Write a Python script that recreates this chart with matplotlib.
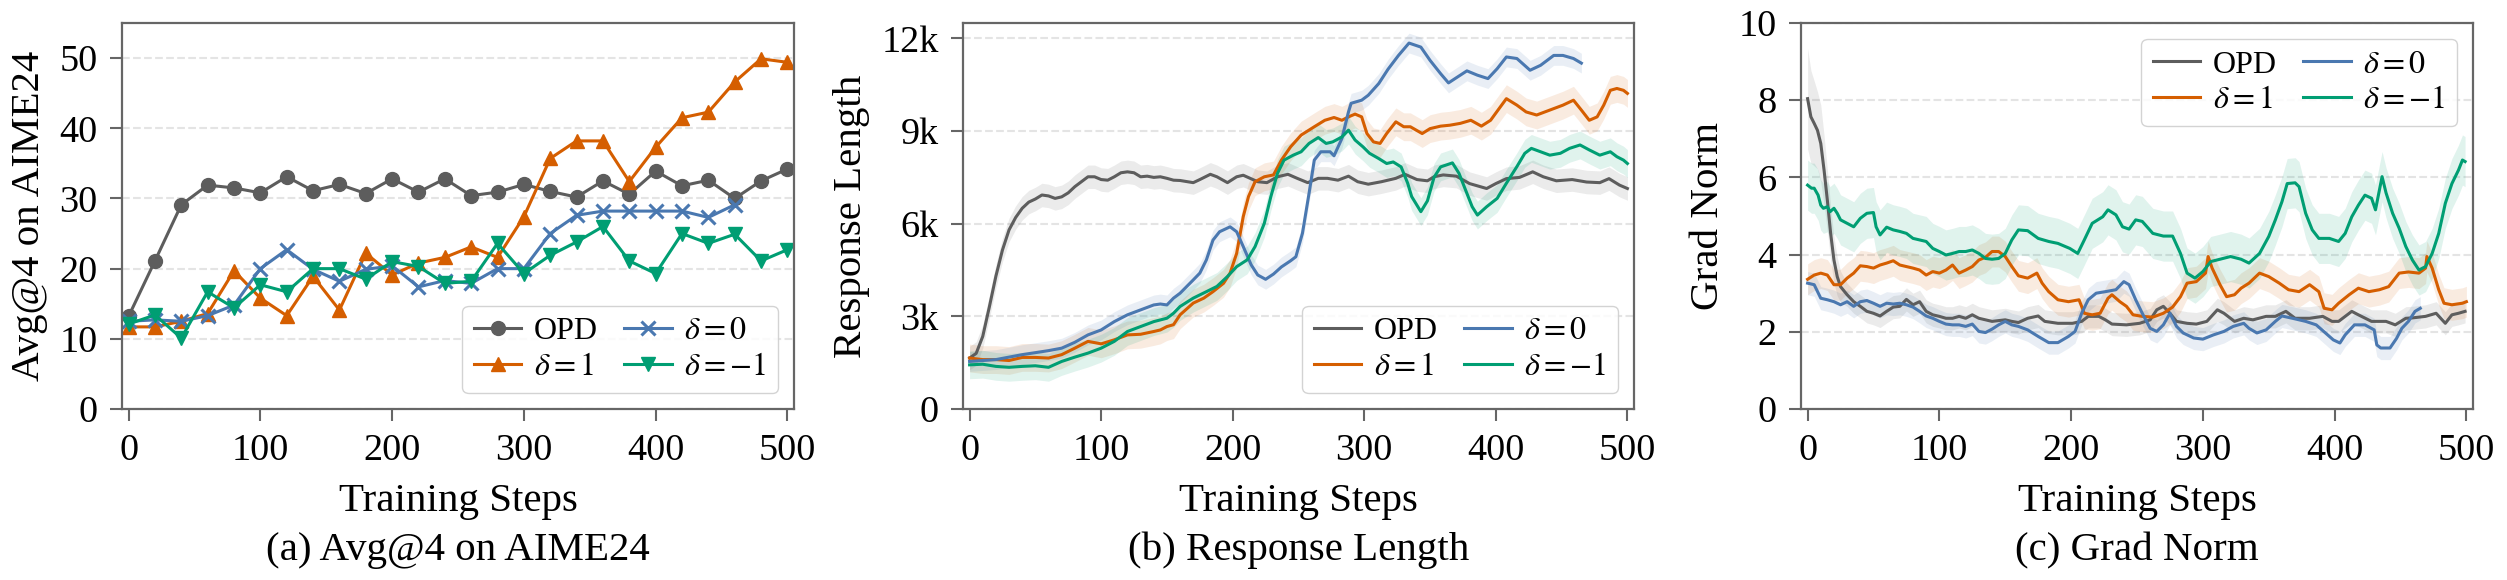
import numpy as np
import matplotlib
matplotlib.use('Agg')
import matplotlib.pyplot as plt

plt.rcParams['font.family'] = ['Liberation Serif', 'DejaVu Serif']
plt.rcParams['mathtext.fontset'] = 'stix'

#----------------------
# (a) Avg@4 on AIME24, evaluated every 20 steps
steps_a = [0, 20, 40, 60, 80, 100, 120, 140, 160, 180, 200, 220, 240,
           260, 280, 300, 320, 340, 360, 380, 400, 420, 440, 460, 480, 500]
opd_a = [13.2, 21.1, 29.1, 31.9, 31.5, 30.8, 33.1, 31.1, 32.0, 30.7, 32.8, 30.9, 32.8,
         30.4, 30.9, 32.0, 31.0, 30.2, 32.5, 30.6, 33.9, 31.8, 32.6, 30.0, 32.5, 34.2]
d1_a = [11.7, 11.7, 12.5, 13.6, 19.7, 15.8, 13.3, 18.9, 14.1, 22.2, 19.1, 20.8, 21.6,
        23.1, 21.6, 27.4, 35.7, 38.2, 38.2, 32.4, 37.3, 41.5, 42.3, 46.6, 49.9, 49.4]
d0_a = [12.5, 12.7, 12.5, 13.3, 14.8, 20.0, 22.7, 19.9, 18.2, 19.9, 20.4, 17.4, 18.3,
        17.9, 20.0, 20.0, 25.0, 27.6, 28.2, 28.2, 28.2, 28.2, 27.3, 29.1]
dm1_a = [12.1, 13.4, 10.1, 16.7, 14.4, 17.7, 16.7, 20.0, 20.0, 18.5, 21.0, 20.3, 17.9,
         18.2, 23.6, 19.3, 21.9, 23.8, 26.0, 21.1, 19.3, 25.0, 23.6, 24.9, 21.1, 22.7]

#----------------------
# (b) Response length (smoothed)
opd_b_x = [0, 5, 10, 15, 20, 25, 30, 35, 40, 45, 50, 55, 60, 65, 70, 75, 80, 85, 90, 95,
           100, 105, 110, 115, 120, 125, 130, 135, 140, 145, 150, 155, 160,
           170, 175, 183, 188, 196, 203, 208, 219, 226, 234, 242, 249, 257, 265, 272,
           280, 288, 295, 303, 313, 324, 331,
           340, 348, 353, 360, 370, 380, 393, 400, 408, 418, 428, 436, 446, 458, 469,
           479, 486, 494, 500]
opd_b = [1650, 1800, 2350, 3300, 4300, 5150, 5800, 6200, 6500, 6700, 6800, 6930, 6900,
         6820, 6870, 7000, 7200, 7360, 7520, 7520, 7430, 7410, 7520, 7650, 7680, 7650,
         7520, 7540, 7500, 7520, 7470, 7410, 7400,
         7330, 7430, 7600, 7520, 7330, 7520, 7570, 7360, 7330, 7520, 7600, 7470, 7330,
         7470, 7470, 7410, 7540, 7360, 7280, 7360, 7470, 7600,
         7430, 7390, 7520, 7580, 7540, 7300, 7140, 7300, 7460, 7500, 7680, 7520, 7390,
         7430, 7350, 7330, 7460, 7250, 7140]
d1_b_x = [0, 10, 20, 30, 40, 50, 60, 70, 80, 90, 100, 110, 120, 130, 140, 145, 150, 155,
          160, 170, 178, 185, 193, 198, 203, 208, 212, 217, 224, 231, 237, 244, 252, 262,
          270, 277, 283, 288, 293, 298, 302, 307, 312, 317, 324, 330, 335, 344, 350, 358,
          365, 373, 381, 389, 396, 403, 408, 416, 423, 431, 441, 451, 459, 465, 471, 477,
          482, 487, 492, 497, 500]
d1_b = [1650, 1600, 1600, 1570, 1670, 1670, 1650, 1760, 1970, 2190, 2110, 2240, 2400,
        2420, 2510, 2560, 2670, 2730, 3050, 3430, 3590, 3800, 4070, 4400, 5040, 6230,
        6880, 7360, 7520, 7580, 8060, 8490, 8870, 9140, 9350, 9440, 9350, 9460, 9550,
        9460, 8920, 8650, 8600, 8920, 9300, 9140, 9140, 8920, 9080, 9160, 9190, 9250,
        9350, 9160, 9350, 9760, 10050, 9840, 9620, 9520, 9680, 9840, 10000, 9680, 9350,
        9460, 9840, 10320, 10380, 10320, 10220]
d0_b_x = [0, 20, 40, 60, 70, 80, 90, 100, 110, 120, 130, 140, 145, 150, 155, 160, 170,
          175, 180, 185, 190, 198, 203, 208, 214, 219, 225, 231, 237, 244, 248, 253, 258,
          262, 267, 274, 277, 283, 288, 290, 298, 303, 311, 318, 326, 334, 343, 350, 358,
          364, 369, 378, 386, 394, 401, 408, 416, 426, 434, 444, 451, 459, 465]
d0_b = [1540, 1600, 1760, 1890, 1970, 2160, 2400, 2560, 2830, 3050, 3210, 3370, 3400,
        3370, 3590, 3750, 4180, 4400, 4830, 5470, 5740, 5900, 5740, 5260, 4670, 4340,
        4200, 4370, 4600, 4800, 4930, 5690, 6980, 8060, 8330, 8330, 8200, 8760, 9620,
        9900, 10000, 10160, 10540, 11000, 11450, 11850, 11720, 11290, 10860, 10560,
        10700, 10950, 10810, 10700, 11020, 11400, 11350, 10970, 11130, 11450, 11450,
        11350, 11200]
dm1_b_x = [0, 10, 20, 30, 40, 50, 60, 70, 80, 90, 100, 110, 120, 130, 140, 150, 155, 160,
           170, 180, 188, 196, 203, 211, 217, 224, 229, 234, 239, 246, 252, 258, 265, 271,
           276, 283, 288, 293, 299, 304, 311, 317, 322, 328, 333, 336, 340, 343, 348, 353,
           358, 367, 372, 377, 382, 386, 393, 401, 408, 416, 422, 427, 434, 441, 449, 456,
           464, 471, 479, 487, 492, 497, 500]
dm1_b = [1430, 1450, 1380, 1350, 1380, 1400, 1350, 1540, 1680, 1810, 1970, 2190, 2510,
         2670, 2830, 2940, 3100, 3320, 3590, 3800, 3970, 4290, 4610, 4830, 5260, 6010,
         6880, 7630, 8060, 8220, 8330, 8600, 8790, 8600, 8650, 8810, 9030, 8710, 8490,
         8280, 8110, 7950, 8000, 7840, 7310, 6880, 6600, 6390, 6740, 7500, 7840, 7970,
         7630, 7090, 6550, 6280, 6550, 6820, 7310, 7850, 8280, 8440, 8330, 8220, 8280,
         8440, 8550, 8390, 8220, 8330, 8170, 8060, 7950]
spread_b = [380, 450, 320, 450]   # half width of shaded band per series

#----------------------
# (c) Grad norm (smoothed)
opd_c_x = [0, 2.5, 5, 7.5, 10, 12.5, 15, 17.5, 20, 22.5, 25, 30, 35, 40, 45, 50, 55, 60,
           65, 70, 75, 80, 85, 90, 95, 100, 105, 110, 115, 120, 125, 130, 135, 140, 145,
           150, 155, 160, 167, 175, 180, 190, 201, 208, 213, 221, 226, 231, 242, 252, 260,
           265, 270, 275, 280, 288, 295, 303, 311, 316, 324, 331, 338, 348, 355, 363, 370,
           381, 391, 398, 403, 413, 418, 428, 439, 446, 454, 459, 469, 477, 484, 489, 494,
           499]
opd_c = [8.04, 7.57, 7.4, 7.22, 6.88, 6.19, 5.41, 4.55, 3.86, 3.43, 3.17, 2.96, 2.78,
         2.66, 2.53, 2.48, 2.41, 2.53, 2.64, 2.66, 2.84, 2.7, 2.78, 2.53, 2.44, 2.4, 2.35,
         2.35, 2.4, 2.35, 2.44, 2.35, 2.31, 2.27, 2.29, 2.31, 2.27, 2.24, 2.35, 2.41, 2.27,
         2.22, 2.22, 2.27, 2.4, 2.4, 2.31, 2.2, 2.18, 2.22, 2.31, 2.57, 2.66, 2.48, 2.27,
         2.22, 2.2, 2.27, 2.57, 2.48, 2.27, 2.35, 2.31, 2.4, 2.4, 2.53, 2.35, 2.35, 2.4,
         2.27, 2.27, 2.53, 2.44, 2.27, 2.27, 2.18, 2.35, 2.36, 2.4, 2.48, 2.22, 2.44, 2.48,
         2.53]
opd_c_spread = [1.3, 1.2, 1.1, 1.0, 1.0, 0.9, 0.8, 0.7, 0.6, 0.5, 0.4] + [0.3] * 73
d1_c_x = [0, 5, 10, 15, 20, 25, 30, 35, 40, 45, 50, 55, 60, 65, 70, 75, 80, 85, 90, 95,
          100, 105, 110, 115, 120, 125, 130, 135, 140, 145, 150, 155, 160, 167, 174, 178,
          183, 190, 198, 206, 210, 216, 222, 228, 231, 237, 242, 247, 254, 262, 270, 277,
          283, 288, 295, 302, 304, 307, 313, 318, 324, 329, 335, 343, 350, 358, 365, 373,
          381, 388, 392, 398, 403, 411, 418, 426, 434, 441, 449, 456, 464, 469, 470, 474,
          479, 483, 489, 497, 500]
d1_c = [3.36, 3.47, 3.52, 3.47, 3.22, 3.22, 3.39, 3.52, 3.71, 3.69, 3.65, 3.73, 3.78,
        3.84, 3.73, 3.69, 3.65, 3.6, 3.47, 3.56, 3.52, 3.6, 3.73, 3.52, 3.6, 3.69, 3.86,
        3.93, 4.08, 4.08, 3.95, 3.69, 3.45, 3.39, 3.52, 3.26, 3.04, 2.83, 2.78, 2.83, 2.48,
        2.44, 2.48, 2.87, 2.96, 2.78, 2.66, 2.44, 2.4, 2.38, 2.48, 2.64, 2.91, 3.26, 3.3,
        3.52, 3.95, 3.65, 3.22, 2.91, 2.96, 3.13, 3.26, 3.52, 3.43, 3.26, 3.09, 3.04, 3.22,
        3.04, 2.61, 2.57, 2.74, 2.96, 3.13, 3.04, 3.09, 3.17, 3.52, 3.55, 3.52, 3.65, 3.95,
        3.65, 3.09, 2.74, 2.7, 2.74, 2.78]
d0_c_x = [0, 5, 10, 15, 20, 25, 30, 35, 40, 45, 50, 55, 60, 65, 70, 75, 80, 85, 90, 95,
          100, 105, 110, 115, 120, 125, 130, 135, 140, 145, 150, 155, 160, 167, 175, 183,
          190, 198, 203, 208, 213, 219, 226, 234, 240, 244, 249, 254, 260, 265, 270, 275,
          280, 285, 293, 300, 308, 316, 323, 331, 335, 341, 348, 355, 360, 368, 378, 386,
          393, 399, 404, 408, 415, 423, 430, 432, 435, 442, 447, 451, 456, 461, 465]
d0_c = [3.26, 3.22, 2.87, 2.83, 2.78, 2.7, 2.78, 2.66, 2.78, 2.81, 2.74, 2.66, 2.74, 2.72,
        2.74, 2.7, 2.64, 2.53, 2.41, 2.35, 2.27, 2.2, 2.18, 2.18, 2.14, 2.2, 2.01, 1.98,
        2.07, 2.18, 2.27, 2.18, 2.14, 2.05, 1.88, 1.72, 1.72, 1.88, 2.01, 2.48, 2.83, 3.0,
        3.04, 3.09, 3.3, 3.22, 2.83, 2.48, 2.09, 2.01, 2.18, 2.48, 2.14, 1.97, 1.84, 1.81,
        1.92, 2.01, 2.14, 2.22, 2.09, 1.97, 2.05, 2.27, 2.41, 2.35, 2.27, 2.18, 1.97, 1.79,
        1.71, 1.92, 2.18, 2.18, 2.05, 1.66, 1.58, 1.58, 1.83, 2.09, 2.27, 2.53, 2.61]
dm1_c_x = [0, 3, 5, 8, 10, 12, 15, 17, 20, 22.5, 25, 30, 35, 40, 45, 50, 52, 55, 60, 65,
           70, 75, 80, 85, 90, 95, 100, 105, 110, 115, 120, 125, 130, 135, 140, 145, 150,
           155, 160, 167, 175, 183, 190, 199, 205, 210, 216, 224, 228, 234, 239, 244, 249,
           254, 262, 270, 277, 283, 288, 294, 300, 306, 313, 321, 329, 335, 343, 350, 355,
           360, 364, 370, 373, 378, 383, 388, 396, 403, 408, 413, 418, 423, 428, 431, 436,
           439, 444, 449, 454, 459, 464, 469, 474, 479, 484, 489, 494, 497, 499]
dm1_c = [5.8, 5.72, 5.72, 5.54, 5.28, 5.2, 5.24, 5.11, 5.2, 5.07, 4.9, 4.81, 4.72, 4.94,
         5.07, 5.09, 4.72, 4.51, 4.71, 4.64, 4.6, 4.55, 4.42, 4.38, 4.34, 4.16, 4.08, 3.99,
         4.03, 4.08, 4.08, 4.12, 4.03, 3.9, 3.88, 3.9, 4.03, 4.38, 4.64, 4.62, 4.42, 4.34,
         4.29, 4.16, 4.03, 4.38, 4.81, 4.98, 5.16, 5.03, 4.72, 4.66, 4.9, 4.86, 4.55, 4.48,
         4.48, 4.03, 3.52, 3.39, 3.56, 3.82, 3.88, 3.95, 3.88, 3.78, 4.03, 4.47, 4.9, 5.37,
         5.84, 5.86, 5.76, 5.07, 4.64, 4.42, 4.42, 4.34, 4.55, 4.98, 5.28, 5.54, 5.46, 5.16,
         6.02, 5.6, 5.07, 4.68, 4.21, 3.86, 3.6, 3.69, 4.03, 4.55, 5.33, 5.84, 6.19, 6.45,
         6.41]
spread_c = [0.4, 0.3, 0.65]   # delta=1, delta=0, delta=-1
#----------------------

labels = ['OPD', r'$\delta=1$', r'$\delta=0$', r'$\delta=-1$']
cols = ['#5d5d5d', '#d55e00', '#4a78b0', '#009e73']
spine_col = '#666666'
fs = 29.5      # axis labels and captions
tick_fs = 27.5
leg_fs = 23


def style_axis(ax):
  for s in ax.spines.values():
    s.set_color(spine_col)
    s.set_linewidth(1.6)
  ax.tick_params(direction='out', length=8.5, width=1.5, color=spine_col,
                 labelsize=tick_fs, pad=9)
  ax.yaxis.grid(True, ls='--', color='#e4e4e4', lw=1.5)
  ax.set_axisbelow(True)
  ax.set_xlim(-5, 505)
  ax.set_xticks([0, 100, 200, 300, 400, 500])
  ax.set_xlabel('Training Steps', fontsize=fs, labelpad=11)


def add_legend(ax, loc):
  ax.legend(loc=loc, ncol=2, fontsize=leg_fs, handlelength=1.5, handletextpad=0.4,
            columnspacing=0.8, labelspacing=0.2, borderpad=0.35, framealpha=0.85,
            edgecolor='#cccccc', fancybox=True)


fig = plt.figure(figsize=(25.07, 5.8), dpi=100)
bot = 1 - 409 / 580.
hgt = (409 - 23) / 580.
ax1 = fig.add_axes([122 / 2507., bot, 672 / 2507., hgt])
ax2 = fig.add_axes([963 / 2507., bot, 671 / 2507., hgt])
ax3 = fig.add_axes([1801 / 2507., bot, 672 / 2507., hgt])

# (a)
mk = dict(lw=2.2, ms=10)
ax1.plot(steps_a, opd_a, '-o', color=cols[0], label=labels[0], **mk)
ax1.plot(steps_a, d1_a, '-^', color=cols[1], label=labels[1], **mk)
ax1.plot(steps_a[:len(d0_a)], d0_a, '-x', color=cols[2], label=labels[2], mew=2.2, **mk)
ax1.plot(steps_a, dm1_a, '-v', color=cols[3], label=labels[3], **mk)
style_axis(ax1)
ax1.set_ylim(0, 55)
ax1.set_yticks([0, 10, 20, 30, 40, 50])
ax1.set_ylabel('Avg@4 on AIME24', fontsize=fs, labelpad=8)
add_legend(ax1, 'lower right')

# (b)
series_b = [(opd_b_x, opd_b), (d1_b_x, d1_b), (d0_b_x, d0_b), (dm1_b_x, dm1_b)]
for i, (xs, ys) in enumerate(series_b):
  ys = np.array(ys, dtype=float)
  ax2.fill_between(xs, ys - spread_b[i], ys + spread_b[i], color=cols[i], alpha=0.12, lw=0)
  ax2.plot(xs, ys, color=cols[i], lw=2.2, label=labels[i])
style_axis(ax2)
ax2.set_ylim(0, 12500)
ax2.set_yticks([0, 3000, 6000, 9000, 12000])
ax2.set_yticklabels(['0', '3k', '6k', '9k', '12k'])
ax2.set_ylabel('Response Length', fontsize=fs, labelpad=8)
add_legend(ax2, 'lower right')

# (c)
series_c = [(opd_c_x, opd_c), (d1_c_x, d1_c), (d0_c_x, d0_c), (dm1_c_x, dm1_c)]
for i, (xs, ys) in enumerate(series_c):
  ys = np.array(ys, dtype=float)
  sp = np.array(opd_c_spread) if i == 0 else spread_c[i - 1]
  ax3.fill_between(xs, ys - sp, ys + sp, color=cols[i], alpha=0.12, lw=0)
  ax3.plot(xs, ys, color=cols[i], lw=2.2, label=labels[i])
style_axis(ax3)
ax3.set_ylim(0, 10)
ax3.set_yticks([0, 2, 4, 6, 8, 10])
ax3.set_ylabel('Grad Norm', fontsize=fs, labelpad=8)
add_legend(ax3, 'upper right')

captions = ['(a) Avg@4 on AIME24', '(b) Response Length', '(c) Grad Norm']
for ax, cap in zip([ax1, ax2, ax3], captions):
  p = ax.get_position()
  fig.text((p.x0 + p.x1) / 2, 1 - 560 / 580., cap, ha='center', va='baseline', fontsize=fs)

fig.savefig('out.png', dpi=100)
